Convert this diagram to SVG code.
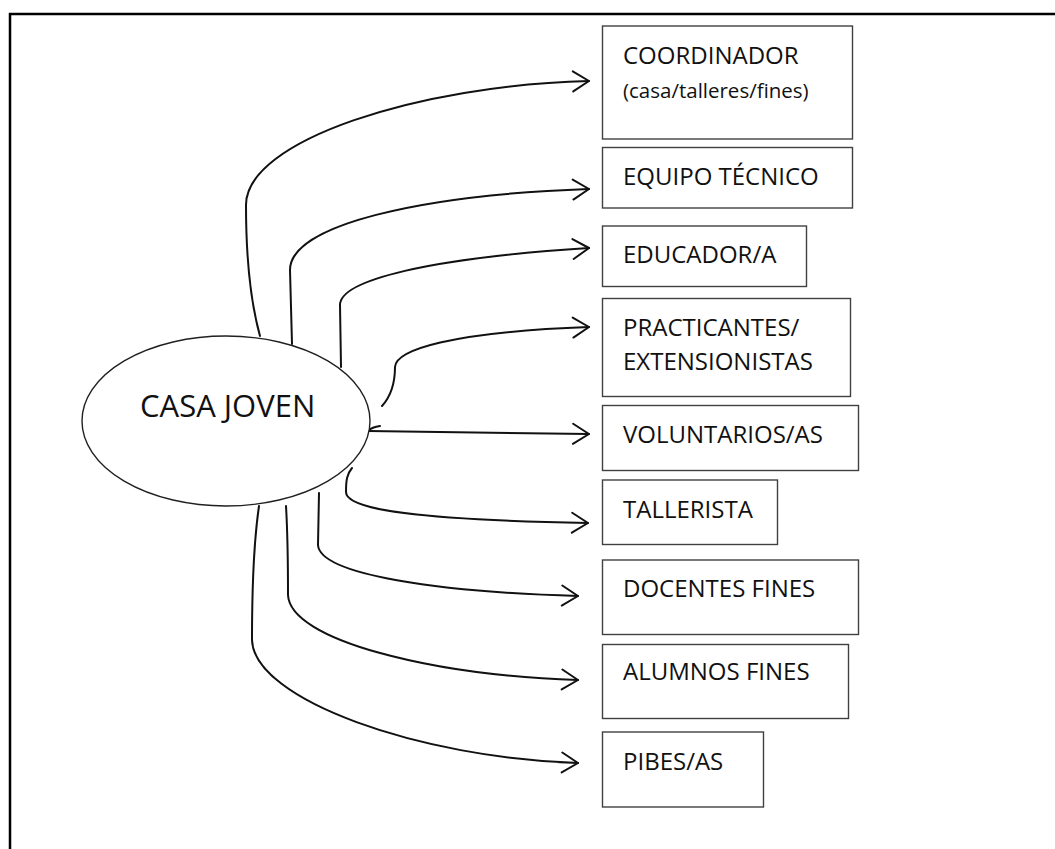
<svg xmlns="http://www.w3.org/2000/svg" width="1055" height="849" viewBox="0 0 1055 849">
<style>
.frame{fill:none;stroke:#000;stroke-width:2.5}
.box{fill:#fff;stroke:#404040;stroke-width:1.4}
.ell{fill:#fff;stroke:#202020;stroke-width:1.4}
.lbl{font-family:"Open Sans","Noto Sans",sans-serif;font-size:24px;fill:#111}
.sub{font-size:20.5px}
.big{font-size:31px}
.con{fill:none;stroke:#111;stroke-width:2;stroke-linecap:round;stroke-linejoin:round}
</style>
<defs>
<marker id="arr" markerUnits="userSpaceOnUse" markerWidth="24" markerHeight="24" viewBox="-20 -12 24 24" refX="0" refY="0" orient="auto">
<path d="M-16,-10 L0,0 L-16,10" fill="none" stroke="#111" stroke-width="2" stroke-linecap="round" stroke-linejoin="round"/>
</marker>
</defs>
<rect width="1055" height="849" fill="#fff"/>
<rect class="frame" x="10" y="14" width="1100" height="900"/>
<g id="connectors">
<path class="con" marker-end="url(#arr)" d="M260,336 C250,300 246,250 246,205 C246,140 420,85 589,81"/>
<path class="con" marker-end="url(#arr)" d="M292,344 L290,270 C290,225 420,195 589,189"/>
<path class="con" marker-end="url(#arr)" d="M341,367 L340,305 C340,280 430,258 589,248"/>
<path class="con" marker-end="url(#arr)" d="M382,406 C392,395 395,380 395,367 C396,350 450,332 589,327"/>
<path class="con" marker-end="url(#arr)" d="M368,431 L589,434"/>
<path class="con" d="M368,431 Q372,427 380,426"/>
<path class="con" marker-end="url(#arr)" d="M352,468 C347,474 346,480 346,492 C346,510 420,520 588,523"/>
<path class="con" marker-end="url(#arr)" d="M319,493 L318,545 C320,575 440,592 578,596"/>
<path class="con" marker-end="url(#arr)" d="M286,506 C288,540 288,570 288,595 C290,640 430,675 578,680"/>
<path class="con" marker-end="url(#arr)" d="M259,506 C254,540 252,590 252,640 C254,700 420,758 578,763"/>
</g>
<g id="casa-joven">
<ellipse class="ell" cx="226" cy="421" rx="144" ry="85"/>
<text class="lbl big" x="140" y="417">CASA JOVEN</text>
</g>
<g id="coordinador">
<rect class="box" x="602.5" y="26" width="250" height="113"/>
<text class="lbl" x="623" y="64">COORDINADOR</text>
<text class="lbl sub" x="623" y="98">(casa/talleres/fines)</text>
</g>
<g id="equipo-tecnico">
<rect class="box" x="602.5" y="147.5" width="250" height="60.5"/>
<text class="lbl" x="623" y="185">EQUIPO TÉCNICO</text>
</g>
<g id="educador">
<rect class="box" x="602.5" y="226" width="204" height="60.5"/>
<text class="lbl" x="623" y="263">EDUCADOR/A</text>
</g>
<g id="practicantes">
<rect class="box" x="602.5" y="298.5" width="248" height="98"/>
<text class="lbl" x="623" y="336">PRACTICANTES/</text>
<text class="lbl" x="623" y="369.5">EXTENSIONISTAS</text>
</g>
<g id="voluntarios">
<rect class="box" x="602.5" y="405.5" width="256" height="65"/>
<text class="lbl" x="623" y="443">VOLUNTARIOS/AS</text>
</g>
<g id="tallerista">
<rect class="box" x="602.5" y="480" width="175" height="64.5"/>
<text class="lbl" x="623" y="517.5">TALLERISTA</text>
</g>
<g id="docentes-fines">
<rect class="box" x="602.5" y="560" width="256" height="74.5"/>
<text class="lbl" x="623" y="597">DOCENTES FINES</text>
</g>
<g id="alumnos-fines">
<rect class="box" x="602.5" y="644.5" width="246" height="74"/>
<text class="lbl" x="623" y="680">ALUMNOS FINES</text>
</g>
<g id="pibes">
<rect class="box" x="602.5" y="732" width="161" height="75"/>
<text class="lbl" x="623" y="769.5">PIBES/AS</text>
</g>
</svg>
